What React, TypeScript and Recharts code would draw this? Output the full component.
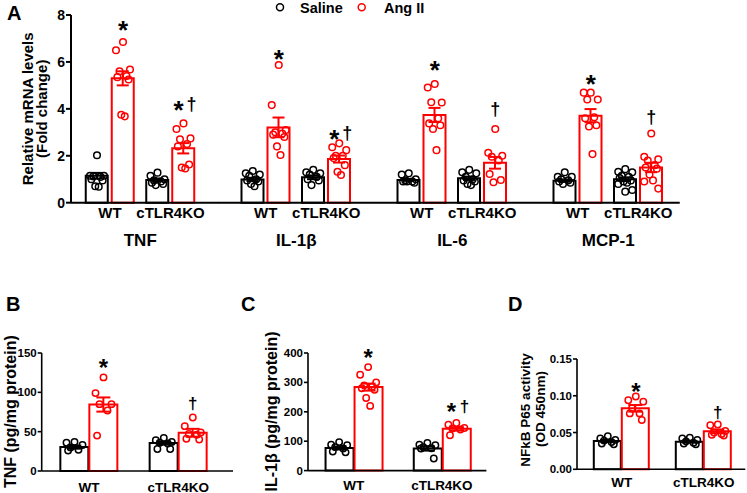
import React from "react";
import { Bar, ComposedChart, ErrorBar, Scatter, XAxis, YAxis } from "recharts";

const RED = "#ff0000";
const INK = "#000000";
const FONT = '"Liberation Sans", Arial, Helvetica, sans-serif';

const GROUPS = ["WT", "cTLR4KO"];
const GENES = ["TNF", "IL-1β", "IL-6", "MCP-1"];

// Panel A, relative mRNA (fold change). Per gene: [WT, cTLR4KO]
const A_SALINE_MEAN = [[1.15, 0.97], [0.99, 1.08], [0.97, 1.04], [0.94, 1.0]];
const A_SALINE_SEM = [[0.12, 0.06], [0.07, 0.08], [0.04, 0.07], [0.05, 0.08]];
const A_ANGII_MEAN = [[5.3, 2.32], [3.21, 1.86], [3.74, 1.7], [3.71, 1.5]];
const A_ANGII_SEM = [[0.3, 0.22], [0.42, 0.15], [0.3, 0.25], [0.28, 0.2]];

const TNF_SALINE = [
  [2.02, 1.15, 1.15, 1.12, 1.1, 1.0, 0.95, 0.7, 0.68],
  [1.28, 1.15, 1.0, 0.95, 0.9, 0.85, 0.8, 0.75],
];
const TNF_ANGII = [
  [6.85, 6.5, 5.68, 5.6, 5.4, 5.35, 5.25, 3.75, 3.68],
  [3.38, 3.14, 2.74, 2.7, 2.5, 2.4, 1.63, 1.5, 1.46],
];
const IL1B_SALINE = [
  [1.35, 1.25, 1.2, 1.15, 1.0, 0.95, 0.9, 0.8, 0.7],
  [1.4, 1.3, 1.25, 1.2, 1.1, 1.0, 0.95, 0.75],
];
const IL1B_ANGII = [
  [5.87, 4.16, 3.1, 3.0, 2.95, 2.9, 2.8, 2.4, 2.03],
  [2.53, 2.36, 2.24, 2.0, 2.0, 1.9, 1.6, 1.32, 1.18],
];
const IL6_SALINE = [
  [1.25, 1.2, 1.0, 0.95, 0.9, 0.9, 0.85, 0.9],
  [1.4, 1.3, 1.25, 1.1, 1.0, 0.95, 0.9, 0.8, 0.75],
];
const IL6_ANGII = [
  [5.06, 4.91, 4.27, 4.28, 3.6, 3.38, 3.3, 3.14, 2.24],
  [3.14, 2.13, 2.0, 1.96, 1.8, 1.22, 0.97, 0.87],
];
const MCP1_SALINE = [
  [1.3, 1.1, 1.1, 1.0, 0.95, 0.9, 0.85, 0.8],
  [1.43, 1.32, 1.3, 1.15, 1.1, 1.05, 0.95, 0.9, 0.85, 0.8, 0.54, 0.47],
];
const MCP1_ANGII = [
  [4.69, 4.69, 4.4, 4.4, 3.64, 3.6, 3.3, 3.25, 2.07],
  [2.95, 1.96, 1.85, 1.8, 1.6, 1.5, 1.45, 1.2, 0.95, 0.9, 0.6],
];
const A_MARKS = [["*", "*†"], ["*", "*†"], ["*", "†"], ["*", "†"]];
const A_MARK_Y = [[7.57, 4.16], [6.37, 2.95], [5.87, 3.95], [5.3, 3.6]];

// Panel B, TNF protein (pg/mg protein)
const B_SALINE_MEAN = [30.4, 35.5];
const B_SALINE_SEM = [2, 2];
const B_ANGII_MEAN = [84.5, 48.6];
const B_ANGII_SEM = [9, 5];
const B_SALINE = [[37, 36, 33, 30, 27, 26], [42, 39, 37, 36, 35, 28, 28]];
const B_ANGII = [[119, 99, 85, 85, 77, 45], [68, 57, 49, 47, 46, 41, 40]];
const B_MARKS = ["*", "†"];
const B_MARK_Y = [137, 84.5];

// Panel C, IL-1β protein (pg/mg protein)
const C_SALINE_MEAN = [77, 75];
const C_SALINE_SEM = [5, 7];
const C_ANGII_MEAN = [284, 142];
const C_ANGII_SEM = [12, 6];
const C_SALINE = [[97, 88, 86, 80, 75, 65, 62], [94, 88, 86, 80, 76, 75, 41]];
const C_ANGII = [
  [352, 326, 300, 290, 285, 280, 275, 247, 220],
  [162, 156, 145, 143, 140, 120],
];
const C_MARKS = ["*", "*†"];
const C_MARK_Y = [400, 216];

// Panel D, NFkB P65 activity (OD 450nm)
const D_SALINE_MEAN = [0.0385, 0.0376];
const D_SALINE_SEM = [0.0015, 0.0013];
const D_ANGII_MEAN = [0.0829, 0.0517];
const D_ANGII_SEM = [0.0045, 0.0025];
const D_SALINE = [
  [0.045, 0.042, 0.04, 0.039, 0.037, 0.035, 0.034],
  [0.043, 0.042, 0.04, 0.038, 0.036, 0.035, 0.034],
];
const D_ANGII = [
  [0.099, 0.094, 0.092, 0.083, 0.076, 0.076, 0.067],
  [0.061, 0.06, 0.052, 0.05, 0.048, 0.047, 0.046],
];
const D_MARKS = ["*", "†"];
const D_MARK_Y = [0.112, 0.0766];

// horizontal spread pattern for the scatter dots (fraction of half spread)
const JITTER = [0, -1, 1, -0.5, 0.5, -0.8, 0.8, -0.25, 0.25, -1, 1, 0];

type Row = { group: string; sal: number; salSem: number; ang: number; angSem: number };
type Dot = { group: string; v: number; dx: number; color: string };
type Mark = { group: string; v: number; text: string; dx: number };

function buildRows(salMean: number[], salSem: number[], angMean: number[], angSem: number[]): Row[] {
  return GROUPS.map((group, i) => ({
    group,
    sal: salMean[i],
    salSem: salSem[i],
    ang: angMean[i],
    angSem: angSem[i],
  }));
}

function buildDots(saline: number[][], angII: number[][], side: number, half: number): Dot[] {
  const out: Dot[] = [];
  GROUPS.forEach((group, i) => {
    saline[i].forEach((v, k) =>
      out.push({ group, v, dx: -side + JITTER[k % JITTER.length] * half, color: INK })
    );
    angII[i].forEach((v, k) =>
      out.push({ group, v, dx: side + JITTER[k % JITTER.length] * half, color: RED })
    );
  });
  return out;
}

function buildMarks(texts: string[], ys: number[], side: number): Mark[] {
  return GROUPS.map((group, i) => ({ group, v: ys[i], text: texts[i], dx: side }));
}

type PanelProps = {
  plot: { x0: number; x1: number; y0: number; y1: number };
  yWidth: number;
  domain: [number, number];
  ticks: number[];
  fmt: (v: number) => string;
  rows: Row[];
  dots: Dot[];
  marks: Mark[];
  barSize: number;
  barGap: number;
  pad: [number, number];
  axisW: number;
  yTickFont: number;
  yTickSize: number;
  xTickFont: number;
  xTickGap: number;
  cap: number;
  dotR: number;
  starSize: number;
  daggerSize: number;
};

const MT = 14;
const MR = 14;
const XH = 30;

function Panel(p: PanelProps) {
  const left = p.plot.x0 - p.yWidth;
  const top = p.plot.y0 - MT;
  const width = p.plot.x1 + MR - left;
  const height = p.plot.y1 + XH - top;

  const dotShape = (s: any) => (
    <circle
      cx={s.cx + s.payload.dx}
      cy={s.cy}
      r={p.dotR}
      fill="none"
      stroke={s.payload.color}
      strokeWidth={1.5}
    />
  );

  const markShape = (s: any) => {
    const text: string = s.payload.text;
    const both = text.length > 1;
    const x = s.cx + s.payload.dx;
    return (
      <g>
        {text.includes("*") && (
          <text
            x={both ? x - 5 : x}
            y={s.cy + 0.55 * p.starSize}
            textAnchor="middle"
            fontSize={p.starSize}
            fontWeight={700}
            fontFamily={FONT}
            fill={INK}
          >
            *
          </text>
        )}
        {text.includes("†") && (
          <text
            x={both ? x + 8 : x}
            y={s.cy + 0.29 * p.daggerSize}
            textAnchor="middle"
            fontSize={p.daggerSize}
            fontWeight={700}
            fontFamily={FONT}
            fill={INK}
          >
            †
          </text>
        )}
      </g>
    );
  };

  return (
    <div style={{ position: "absolute", left, top }}>
      <ComposedChart
        width={width}
        height={height}
        data={p.rows}
        barGap={p.barGap}
        margin={{ top: MT, right: MR, left: 0, bottom: 0 }}
      >
        <XAxis
          dataKey="group"
          type="category"
          allowDuplicatedCategory={false}
          padding={{ left: p.pad[0], right: p.pad[1] }}
          height={XH}
          interval={0}
          tickLine={false}
          tickSize={0}
          tickMargin={p.xTickGap}
          axisLine={{ stroke: INK, strokeWidth: p.axisW }}
          tick={{ fill: INK, fontSize: p.xTickFont, fontWeight: 700, fontFamily: FONT }}
        />
        <YAxis
          type="number"
          hide={p.yWidth === 0}
          width={p.yWidth}
          domain={p.domain}
          ticks={p.ticks}
          interval={0}
          tickFormatter={p.fmt}
          tickSize={p.yTickSize}
          tickMargin={1}
          axisLine={{ stroke: INK, strokeWidth: p.axisW }}
          tickLine={{ stroke: INK, strokeWidth: p.axisW }}
          tick={{ fill: INK, fontSize: p.yTickFont, fontWeight: 700, fontFamily: FONT }}
        />
        <Bar
          dataKey="sal"
          barSize={p.barSize}
          fill="#ffffff"
          stroke={INK}
          strokeWidth={2}
          isAnimationActive={false}
        >
          <ErrorBar dataKey="salSem" width={p.cap} stroke={INK} strokeWidth={2} />
        </Bar>
        <Bar
          dataKey="ang"
          barSize={p.barSize}
          fill="#ffffff"
          stroke={RED}
          strokeWidth={2}
          isAnimationActive={false}
        >
          <ErrorBar dataKey="angSem" width={p.cap} stroke={RED} strokeWidth={2} />
        </Bar>
        <Scatter data={p.dots} dataKey="v" shape={dotShape} isAnimationActive={false} />
        <Scatter data={p.marks} dataKey="v" shape={markShape} isAnimationActive={false} />
      </ComposedChart>
    </div>
  );
}

const A_SALINE_DOTS = [TNF_SALINE, IL1B_SALINE, IL6_SALINE, MCP1_SALINE];
const A_ANGII_DOTS = [TNF_ANGII, IL1B_ANGII, IL6_ANGII, MCP1_ANGII];

// panel A layout (one sub-chart per gene, sharing the axis line)
const A_TOP = 15;
const A_BOTTOM = 202.7;
const A_BAND = 60.5;
const A_STEP = 156;
const A_FIRST = 79.75;
const A_EDGE = 17.5;

export default function App() {
  const aPanels = GENES.map((gene, g) => {
    const start = A_FIRST + g * A_STEP;
    const x0 = g === 0 ? 71 : start - A_EDGE;
    const x1 = g === GENES.length - 1 ? 680 : start + 2 * A_BAND + A_EDGE;
    return (
      <Panel
        key={gene}
        plot={{ x0, x1, y0: A_TOP, y1: A_BOTTOM }}
        yWidth={g === 0 ? 71 : 0}
        domain={[0, 8]}
        ticks={[0, 2, 4, 6, 8]}
        fmt={(v) => String(v)}
        rows={buildRows(A_SALINE_MEAN[g], A_SALINE_SEM[g], A_ANGII_MEAN[g], A_ANGII_SEM[g])}
        dots={buildDots(A_SALINE_DOTS[g], A_ANGII_DOTS[g], 13, 7)}
        marks={buildMarks(A_MARKS[g], A_MARK_Y[g], 13)}
        barSize={22}
        barGap={4}
        pad={[start - x0, x1 - (start + 2 * A_BAND)]}
        axisW={2}
        yTickFont={14}
        yTickSize={5}
        xTickFont={15}
        xTickGap={5}
        cap={6}
        dotR={3.3}
        starSize={26}
        daggerSize={18}
      />
    );
  });

  const common = {
    axisW: 1.6,
    yTickFont: 11.5,
    yTickSize: 4,
    xTickFont: 13.5,
    cap: 7,
    dotR: 3.2,
    starSize: 24,
    daggerSize: 17,
  };

  return (
    <div
      style={{
        position: "absolute",
        left: 0,
        top: 0,
        width: 747,
        height: 493,
        overflow: "hidden",
        background: "#ffffff",
        fontFamily: FONT,
      }}
    >
      {aPanels}
      <Panel
        {...common}
        plot={{ x0: 41.7, x1: 233, y0: 352.7, y1: 470.7 }}
        yWidth={41.7}
        domain={[0, 150]}
        ticks={[0, 50, 100, 150]}
        fmt={(v) => String(v)}
        rows={buildRows(B_SALINE_MEAN, B_SALINE_SEM, B_ANGII_MEAN, B_ANGII_SEM)}
        dots={buildDots(B_SALINE, B_ANGII, 14.5, 8)}
        marks={buildMarks(B_MARKS, B_MARK_Y, 14.5)}
        barSize={28}
        barGap={1}
        pad={[2.65, 10.05]}
        xTickGap={11}
      />
      <Panel
        {...common}
        plot={{ x0: 308.3, x1: 486.7, y0: 352.7, y1: 470.3 }}
        yWidth={58}
        domain={[0, 400]}
        ticks={[0, 100, 200, 300, 400]}
        fmt={(v) => String(v)}
        rows={buildRows(C_SALINE_MEAN, C_SALINE_SEM, C_ANGII_MEAN, C_ANGII_SEM)}
        dots={buildDots(C_SALINE, C_ANGII, 14.5, 8)}
        marks={buildMarks(C_MARKS, C_MARK_Y, 14.5)}
        barSize={28}
        barGap={1}
        pad={[1.55, 0.4]}
        xTickGap={10}
      />
      <Panel
        {...common}
        plot={{ x0: 576.7, x1: 745, y0: 358.7, y1: 469 }}
        yWidth={58}
        domain={[0, 0.15]}
        ticks={[0, 0.05, 0.1, 0.15]}
        fmt={(v) => v.toFixed(2)}
        rows={buildRows(D_SALINE_MEAN, D_SALINE_SEM, D_ANGII_MEAN, D_ANGII_SEM)}
        dots={buildDots(D_SALINE, D_ANGII, 14, 7.5)}
        marks={buildMarks(D_MARKS, D_MARK_Y, 14)}
        barSize={27}
        barGap={1}
        pad={[3.8, 0.5]}
        xTickGap={8}
      />

      <svg
        width={747}
        height={493}
        style={{ position: "absolute", left: 0, top: 0, pointerEvents: "none" }}
        fontFamily={FONT}
        fontWeight={700}
        fill={INK}
      >
        <text x={7} y={20} fontSize={20}>A</text>
        <text x={6} y={311} fontSize={20}>B</text>
        <text x={241} y={311} fontSize={20}>C</text>
        <text x={508} y={311} fontSize={20}>D</text>

        <circle cx={280} cy={7.3} r={3.5} fill="none" stroke={INK} strokeWidth={1.5} />
        <text x={300} y={12.5} fontSize={14.5}>Saline</text>
        <circle cx={361.7} cy={7.3} r={3.5} fill="none" stroke={RED} strokeWidth={1.5} />
        <text x={384} y={12.5} fontSize={14.5}>Ang II</text>

        {GENES.map((gene, g) => (
          <text
            key={gene}
            x={A_FIRST + g * A_STEP + A_BAND}
            y={245.5}
            fontSize={17}
            textAnchor="middle"
          >
            {gene}
          </text>
        ))}

        <g transform="translate(32.5 108.8) rotate(-90)">
          <text x={0} y={0} fontSize={15} textAnchor="middle">Relative mRNA levels</text>
        </g>
        <g transform="translate(46.5 108.8) rotate(-90)">
          <text x={0} y={0} fontSize={15} textAnchor="middle">(Fold change)</text>
        </g>
        <g transform="translate(15.5 411.7) rotate(-90)">
          <text x={0} y={0} fontSize={16} textAnchor="middle">TNF (pg/mg protein)</text>
        </g>
        <g transform="translate(277 411.5) rotate(-90)">
          <text x={0} y={0} fontSize={16} textAnchor="middle">IL-1β (pg/mg protein)</text>
        </g>
        <g transform="translate(530 410) rotate(-90)">
          <text x={0} y={0} fontSize={13.5} textAnchor="middle">NFkB P65 activity</text>
        </g>
        <g transform="translate(544.5 409) rotate(-90)">
          <text x={0} y={0} fontSize={13.5} textAnchor="middle">(OD 450nm)</text>
        </g>
      </svg>
    </div>
  );
}
